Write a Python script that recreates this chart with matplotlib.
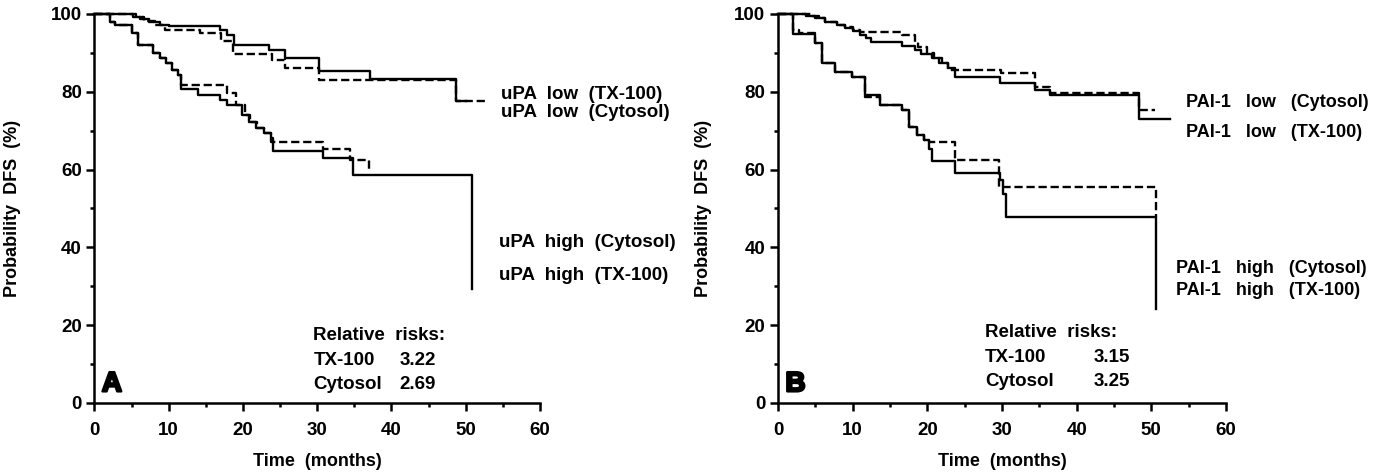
import matplotlib
matplotlib.use("Agg")
import matplotlib.pyplot as plt
import matplotlib.patheffects as pe
from matplotlib.ticker import MultipleLocator

plt.rcParams["font.family"] = ["Liberation Sans", "DejaVu Sans"]
plt.rcParams["font.weight"] = "bold"

# ---- Panel A: uPA ----
a_low_solid_t = [0, 5.2, 6.1, 7.4, 8.8, 10.1, 16.9, 17.8, 18.8, 23.5, 25.7, 30.2, 37.1, 48.7, 50.0]
a_low_solid_s = [100, 99.3, 98.6, 98.0, 97.2, 96.9, 95.9, 94.5, 92.0, 90.7, 88.6, 85.4, 83.2, 77.6, 77.6]
a_low_dash_t = [0, 5.6, 6.7, 8.2, 9.5, 14.2, 17.0, 18.6, 23.9, 25.7, 30.2, 48.7, 53.0]
a_low_dash_s = [100, 99.3, 98.3, 97.2, 95.9, 95.1, 93.0, 89.6, 88.2, 86.2, 83.1, 77.5, 77.5]

a_high_solid_t = [0, 2.1, 2.8, 5.0, 5.9, 7.9, 8.8, 9.7, 10.4, 11.3, 11.7, 14.0, 16.9, 17.8,
                  19.9, 20.8, 21.7, 22.9, 23.8, 24.0, 30.8, 34.8, 50.8]
a_high_solid_s = [100, 98.0, 97.2, 95.0, 92.0, 89.9, 88.6, 87.3, 85.6, 84.3, 80.6, 79.2, 77.9, 76.6,
                  74.0, 72.3, 70.6, 69.3, 68.0, 64.8, 63.1, 58.6, 29.2]
a_high_dash_t = [0, 2.1, 2.8, 5.0, 5.9, 7.9, 8.8, 9.7, 10.4, 11.3, 11.7, 17.8, 19.1, 20.3,
                 21.0, 21.9, 22.9, 23.8, 30.8, 34.4, 37.0]
a_high_dash_s = [100, 98.0, 97.2, 95.0, 92.0, 89.9, 88.6, 87.3, 85.6, 84.3, 81.7, 79.6, 76.6, 74.0,
                 72.3, 70.6, 69.3, 67.1, 65.4, 62.4, 59.8]

# ---- Panel B: PAI-1 ----
b_low_solid_t = [0, 3.8, 5.0, 6.3, 7.9, 9.0, 10.1, 11.0, 11.8, 12.4, 16.6, 18.3, 19.2, 20.6,
                 21.5, 22.8, 23.7, 29.7, 34.4, 36.4, 48.3, 52.5]
b_low_solid_s = [100, 99.5, 98.9, 98.0, 97.2, 96.3, 95.7, 94.6, 93.7, 92.7, 91.8, 90.7, 89.8, 88.6,
                 87.3, 86.2, 83.8, 82.2, 80.4, 79.2, 72.9, 72.9]
b_low_dash_t = [0, 4.5, 5.5, 6.3, 7.9, 9.0, 10.1, 11.0, 16.6, 18.3, 18.8, 20.0, 20.9, 21.9,
                22.8, 29.9, 34.4, 36.4, 48.3, 50.5]
b_low_dash_s = [100, 99.5, 98.9, 98.0, 97.2, 96.6, 96.0, 95.4, 94.6, 92.9, 91.5, 89.9, 88.6, 87.3,
                85.6, 84.7, 81.3, 79.7, 75.3, 75.3]

b_high_solid_t = [0, 2.0, 4.95, 5.85, 7.6, 9.9, 11.6, 13.7, 16.6, 17.5, 18.6, 19.5, 20.2, 20.6,
                  23.7, 29.7, 30.2, 30.6, 50.6]
b_high_solid_s = [100, 94.9, 92.5, 87.5, 85.2, 83.9, 79.2, 76.6, 75.3, 71.0, 68.9, 67.6, 65.4, 62.2,
                  59.0, 57.3, 53.8, 47.8, 24.2]
b_high_dash_t = [0, 2.0, 2.8, 4.95, 5.85, 7.6, 9.9, 11.6, 13.7, 16.6, 17.5, 18.6, 19.5, 20.2,
                 23.7, 29.6, 50.6]
b_high_dash_s = [100, 96.0, 95.0, 92.5, 87.5, 85.2, 83.9, 78.6, 76.6, 75.3, 71.0, 68.9, 67.6, 67.1,
                 62.4, 55.6, 47.8]

a_labels = [("uPA  low  (TX-100)", 54.8, 79.3), ("uPA  low  (Cytosol)", 54.8, 74.6),
            ("uPA  high  (Cytosol)", 54.5, 41.3), ("uPA  high  (TX-100)", 54.5, 32.7)]
b_labels = [("PAI-1   low   (Cytosol)", 54.6, 77.3), ("PAI-1   low   (TX-100)", 54.6, 69.6),
            ("PAI-1   high   (Cytosol)", 53.3, 34.5), ("PAI-1   high   (TX-100)", 53.3, 28.8)]
a_risks = [("TX-100", "3.22"), ("Cytosol", "2.69")]
b_risks = [("TX-100", "3.15"), ("Cytosol", "3.25")]

fig = plt.figure(figsize=(13.93, 4.75), dpi=100)
axA = fig.add_axes([0.0678, 0.1516, 0.3198, 0.819])
axB = fig.add_axes([0.5585, 0.1516, 0.3216, 0.819])

dash = (0, (3.5, 1.6))


def draw_panel(ax, curves, labels, label_size, risks, risk_x, num_x, risk_y, letter, ylab_x):
    for t, s, ls in curves:
        ax.plot(t, s, drawstyle="steps-post", color="black", lw=1.7,
                linestyle=ls, clip_on=False)
    ax.set_xlim(0, 60)
    ax.set_ylim(0, 100)
    for side in ["top", "right"]:
        ax.spines[side].set_visible(False)
    for side in ["left", "bottom"]:
        ax.spines[side].set_linewidth(1.8)
    ax.xaxis.set_major_locator(MultipleLocator(10))
    ax.xaxis.set_minor_locator(MultipleLocator(5))
    ax.yaxis.set_major_locator(MultipleLocator(20))
    ax.yaxis.set_minor_locator(MultipleLocator(10))
    ax.tick_params(which="major", direction="out", length=6, width=1.8, labelsize=13.5)
    ax.tick_params(which="minor", direction="out", length=3, width=1.8)
    ax.tick_params(axis="y", pad=3)
    ax.tick_params(axis="x", which="major", pad=8)
    ax.set_xlabel("Time  (months)", fontsize=13, fontweight="bold")
    ax.xaxis.set_label_coords(0.5, -0.128)
    ax.set_ylabel("Probability  DFS  (%)", fontsize=13, fontweight="bold")
    ax.yaxis.set_label_coords(ylab_x, 0.5)

    for txt, x, y in labels:
        ax.text(x, y, txt, fontsize=label_size, fontweight="bold", va="center", ha="left")

    ax.text(risk_x, risk_y, "Relative  risks:", fontsize=13.5, fontweight="bold", va="center")
    for i, (name, val) in enumerate(risks):
        yy = risk_y - 6.25 * (i + 1)
        ax.text(risk_x, yy, name, fontsize=13.5, fontweight="bold", va="center")
        ax.text(num_x, yy, val, fontsize=13.5, fontweight="bold", va="center")

    ax.text(1.0, 4.8, letter, fontsize=20, fontweight="bold", va="center", ha="left",
            path_effects=[pe.withStroke(linewidth=1.8, foreground="black")])


draw_panel(axA,
           [(a_low_solid_t, a_low_solid_s, "-"), (a_low_dash_t, a_low_dash_s, dash),
            (a_high_solid_t, a_high_solid_s, "-"), (a_high_dash_t, a_high_dash_s, dash)],
           a_labels, 13.5, a_risks, 29.5, 41.1, 17.3, "A", -0.165)
draw_panel(axB,
           [(b_low_solid_t, b_low_solid_s, "-"), (b_low_dash_t, b_low_dash_s, dash),
            (b_high_solid_t, b_high_solid_s, "-"), (b_high_dash_t, b_high_dash_s, dash)],
           b_labels, 13, b_risks, 27.7, 42.3, 18.0, "B", -0.147)

fig.savefig("out.png", dpi=100)
